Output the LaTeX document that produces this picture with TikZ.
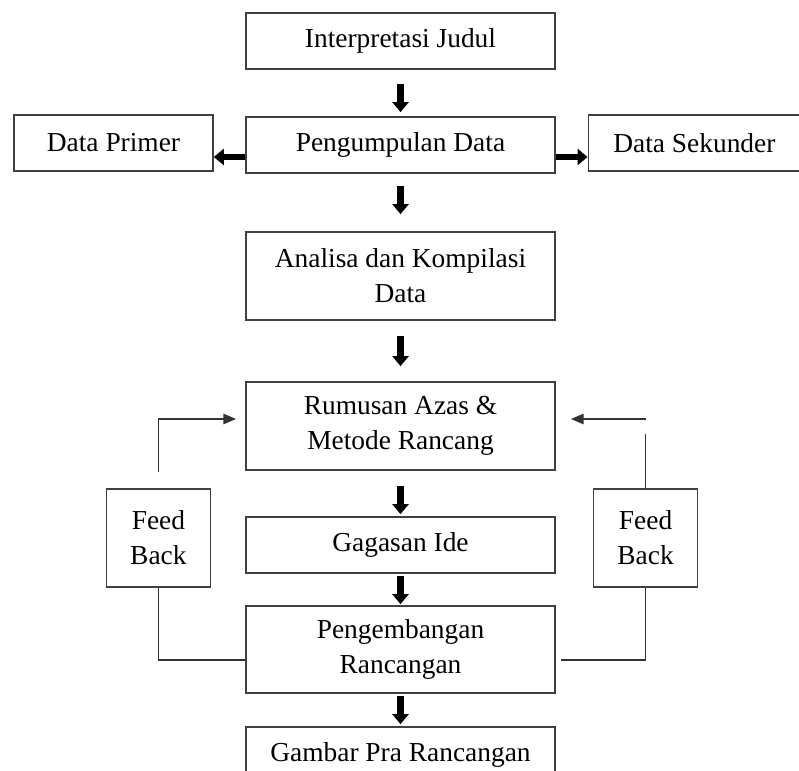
\documentclass[tikz,border=0pt]{standalone}
\usepackage{fontspec}
\setmainfont{Liberation Serif}
\usetikzlibrary{arrows.meta}

\begin{document}
\begin{tikzpicture}[
        kotak/.style={draw=black!75, line width=1.2pt, minimum width=7.725cm, minimum height=1.4cm,
            inner sep=0pt, align=center, font=\fontsize{19.5}{25}\selectfont},
        panah/.style={line width=0.17cm, -{Triangle[width=0.4cm,length=0.25cm]}},
        garis/.style={black!80, line width=1.1pt},
        balik/.style={garis, -{Triangle[width=0.26cm,length=0.32cm]}}
    ]
        % Bidang gambar
        \useasboundingbox (0,0) rectangle (19.975,19.25);

        % Alur utama
        \node[kotak] (interp) at (10.0125,18.225) {Interpretasi Judul};
        \node[kotak] (kumpul) at (10.0125,15.625) {Pengumpulan Data};
        \node[kotak, minimum width=4.975cm] (primer) at (2.8375,15.675) {Data Primer};
        \node[kotak, minimum width=5.3cm] (sekunder) at (17.36,15.675) {Data Sekunder};
        \node[kotak, minimum height=2.2cm] (analisa) at (10.0125,12.35) {Analisa dan Kompilasi\\Data};
        \node[kotak, minimum height=2.2cm] (rumusan) at (10.0125,8.6) {Rumusan Azas \&\\Metode Rancang};
        \node[kotak] (gagasan) at (10.0125,5.625) {Gagasan Ide};
        \node[kotak, minimum height=2.175cm] (kembang) at (10.0125,3.0125) {Pengembangan\\Rancangan};
        \node[kotak] (gambar) at (10.0125,0.375) {Gambar Pra Rancangan};

        % Kotak umpan balik
        \node[kotak, minimum width=2.6cm, minimum height=2.45cm] (fbkiri) at (3.96,5.8) {Feed\\Back};
        \node[kotak, minimum width=2.6cm, minimum height=2.45cm] (fbkanan) at (16.14,5.8) {Feed\\Back};

        % Panah tebal
        \draw[panah, shorten <=0.35cm, shorten >=0.1cm] (interp) -- (kumpul);
        \draw[panah, shorten <=0.3cm, shorten >=0.425cm] (kumpul) -- (analisa);
        \draw[panah, shorten <=0.375cm, shorten >=0.375cm] (analisa) -- (rumusan);
        \draw[panah, shorten <=0.375cm, shorten >=0.05cm] (rumusan) -- (gagasan);
        \draw[panah, shorten <=0.05cm, shorten >=0.025cm] (gagasan) -- (kembang);
        \draw[panah, shorten <=0.05cm, shorten >=0.05cm] (kembang) -- (gambar);
        \draw[panah] ([yshift=-0.3cm]kumpul.west) -- ([yshift=-0.3cm]kumpul.west -| primer.east);
        \draw[panah] ([yshift=-0.3cm]kumpul.east) -- ([yshift=-0.3cm]kumpul.east -| sekunder.west);

        % Umpan balik kiri
        \draw[balik] ([yshift=0.4cm]fbkiri.north) |- ([xshift=-0.225cm,yshift=0.175cm]rumusan.west);
        \draw[garis] (fbkiri.south) |- ([yshift=-0.2625cm]kembang.west);

        % Umpan balik kanan
        \coordinate (ujung) at ([xshift=0.375cm,yshift=0.175cm]rumusan.east);
        \draw[garis] (fbkanan.north) -- ++(0,1.35);
        \draw[balik] (fbkanan.north |- ujung) -- (ujung);
        \draw[garis] (fbkanan.south) |- ([xshift=0.125cm,yshift=-0.2625cm]kembang.east);

    \end{tikzpicture}
\end{document}
